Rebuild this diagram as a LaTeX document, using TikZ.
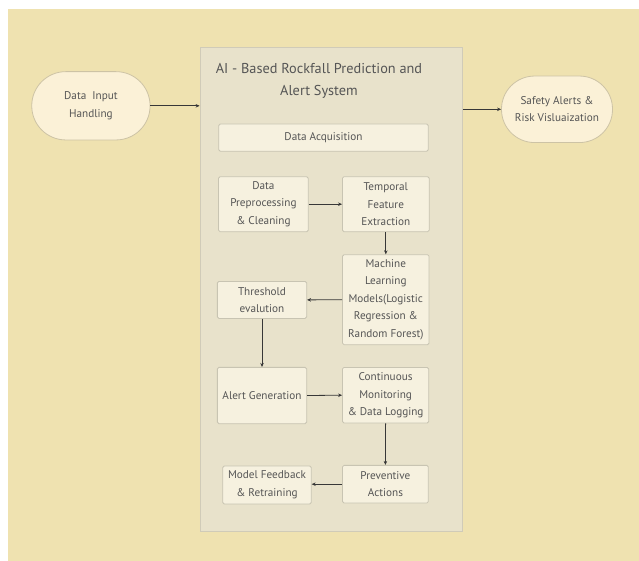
\documentclass[tikz,border=0pt]{standalone}
\usepackage{fontspec}
\setmainfont{PT Sans}
\usetikzlibrary{arrows.meta}
\definecolor{bgyellow}{RGB}{239,226,176}
\definecolor{contfill}{RGB}{232,226,203}
\definecolor{contdraw}{RGB}{208,203,184}
\definecolor{boxfill}{RGB}{246,241,223}
\definecolor{boxdraw}{RGB}{200,196,178}
\definecolor{stadfill}{RGB}{251,241,215}
\definecolor{staddraw}{RGB}{205,195,165}
\definecolor{txtgray}{RGB}{85,85,85}
\definecolor{arrowgray}{RGB}{55,55,55}
\tikzset{
  stepbox/.style={draw=boxdraw, fill=boxfill, line width=0.8pt, rounded corners=1.5pt,
    inner sep=0pt, align=center, text=txtgray, font=\fontsize{11.2}{17.5}\selectfont},
  stadium/.style={draw=staddraw, fill=stadfill, line width=0.8pt,
    inner sep=0pt, align=center, text=txtgray, font=\fontsize{11.2}{17.5}\selectfont},
  conn/.style={draw=arrowgray, line width=0.8pt, -{Stealth[length=4pt,width=3.5pt]}}
}
\begin{document}
\begin{tikzpicture}[x=1pt,y=-1pt]
\useasboundingbox (0,0) rectangle (639,561);
\fill[white] (0,0) rectangle (639,561);
\fill[bgyellow] (7.5,9.5) rectangle (639,561);
% container
\node[draw=contdraw, fill=contfill, line width=0.8pt, minimum width=262.5pt, minimum height=484pt, inner sep=0pt] (cont) at (331.25,289.5) {};
\node[text=txtgray, align=center, font=\fontsize{14.3}{22}\selectfont] (title) at (319,81) {AI - Based Rockfall Prediction and\\Alert System};
% stadiums
\node[stadium, minimum width=118.3pt, minimum height=68.3pt, rounded corners=34pt] (din) at (90.9,105.8) {Data~~Input\\Handling};
\node[stadium, minimum width=111pt, minimum height=66.5pt, rounded corners=33pt] (safe) at (557,109.3) {Safety Alerts \&\\Risk Visluaization};
% inner boxes
\node[stepbox, minimum width=209.5pt, minimum height=27.3pt] (acq) at (323.5,137.6) {Data Acquisition};
\node[stepbox, minimum width=89.7pt, minimum height=55pt] (pre) at (263.4,204.2) {Data\\Preprocessing\\\& Cleaning};
\node[stepbox, minimum width=86.7pt, minimum height=55pt] (tmp) at (385.8,204.2) {Temporal\\Feature\\Extraction};
\node[stepbox, minimum width=86.5pt, minimum height=90pt] (ml) at (385.8,299.7) {Machine\\Learning\\Models(Logistic\\Regression \&\\Random Forest)};
\node[stepbox, minimum width=89.3pt, minimum height=37pt] (thr) at (262,299.9) {Threshold\\evalution};
\node[stepbox, minimum width=89.3pt, minimum height=56.3pt] (alert) at (262,395.5) {Alert Generation};
\node[stepbox, minimum width=86.2pt, minimum height=55.6pt] (mon) at (385.6,395.2) {Continuous\\Monitoring\\\& Data Logging};
\node[stepbox, minimum width=88.5pt, minimum height=37.9pt] (mfb) at (267,485) {Model Feedback\\\& Retraining};
\node[stepbox, minimum width=85.8pt, minimum height=37.7pt] (prev) at (385.4,484.2) {Preventive\\Actions};
% connectors
\draw[conn] (din.east) -- (din.east -| cont.west);
\draw[conn] (cont.east |- safe.west) -- (safe.west);
\draw[conn] (pre.east) -- (tmp.west);
\draw[conn] (tmp.south) -- (ml.north);
\draw[conn] (ml.west) -- (thr.east);
\draw[conn] (thr.south) -- (alert.north);
\draw[conn] (alert.east) -- (mon.west);
\draw[conn] (mon.south) -- (prev.north);
\draw[conn] (prev.west) -- (mfb.east |- prev.west);
\end{tikzpicture}
\end{document}
